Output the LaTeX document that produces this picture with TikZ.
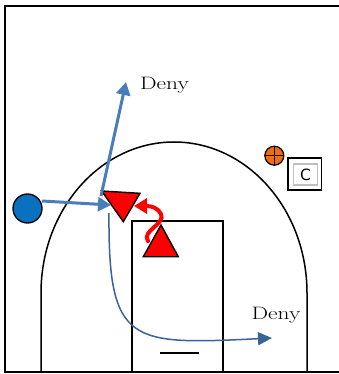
\documentclass[tikz,border=0pt]{standalone}
\usepackage{fontspec}
\newfontfamily\cfont{DejaVu Sans}
\usetikzlibrary{arrows.meta}
\definecolor{bluearr}{HTML}{4A7EBB}
\definecolor{bluecurve}{HTML}{3A6398}
\definecolor{bluedot}{HTML}{0A70C0}
\definecolor{orangedot}{HTML}{F26B0C}
\definecolor{redtri}{HTML}{FF0000}
\tikzset{
  court/.style={line width=1.5pt, black},
  defender/.style={fill=redtri, draw=black, line width=1.4pt, line join=miter},
  thickblue/.style={bluearr, line width=3pt, -{Triangle[length=13pt,width=14pt]}},
  thinblue/.style={bluecurve, line width=1.5pt, -{Triangle[length=14pt,width=13pt]}},
  redmove/.style={redtri, line width=4pt, line cap=round, -{Triangle[length=13pt,width=15pt]}},
  denytext/.style={font=\fontsize{18}{18}\selectfont, inner sep=0pt, anchor=base west},
}
\begin{document}
\begin{tikzpicture}[x=1pt,y=-1pt]
\useasboundingbox (0,0) rectangle (339,374);
% court border
\draw[line width=2pt] (341,6) -- (5,6) -- (5,372) -- (341,372);
% three-point line
\draw[court] (41,372) -- (41,293) arc[start angle=180, end angle=0, x radius=133, y radius=-151] -- (307,372);
% lane
\draw[line width=1.8pt] (132,372) -- (132,221) -- (223,221) -- (223,372);
\draw[line width=1.5pt] (160,353) -- (199,353);

% offensive player
\node[circle, fill=bluedot, draw=black, line width=1.3pt, minimum size=29pt, inner sep=0pt] (o1) at (27.5,208.5) {};

% defenders
\draw[defender] (101.7,191) -- (140,193.3) -- (123.3,221.7) -- cycle;
\draw[defender] (161,225) -- (178.3,256.7) -- (143.3,256.7) -- cycle;

% coach
\node[circle, fill=orangedot, draw=black, line width=1.2pt, minimum size=19pt, inner sep=0pt] (plus) at (274.3,155.7) {};
\draw[line width=1.2pt] (plus.north) -- (plus.south) (plus.west) -- (plus.east);
\node[draw=black, line width=1.3pt, minimum width=33.5pt, minimum height=32pt, inner sep=0pt] (cbox) at (304.8,174) {};
\node[draw=black!25, line width=1.6pt, minimum width=24pt, minimum height=21.5pt, inner sep=0pt, font=\cfont\fontsize{15.5}{15.5}\selectfont] (clab) at (305.5,174.5) {C};

% labels
\node[denytext] (deny1) at (140,90) {\scalebox{1.3}[1]{Deny}};
\node[denytext] (deny2) at (251.5,319) {\scalebox{1.3}[1]{Deny}};

% connectors
\coordinate (a1s) at (42,201);
\coordinate (a1e) at (111,205);
\coordinate (a2s) at (101,196);
\coordinate (a2e) at (126,82);
\coordinate (c1s) at (109,213);
\coordinate (c1e) at (272,338);
\coordinate (r1s) at (148,241);
\coordinate (r1e) at (134,206);
\draw[thickblue] (a1s) -- (a1e);
\draw[thickblue] (a2s) -- (a2e);
\draw[thinblue] (c1s) .. controls (108,345) and (130,345) .. (c1e);
\draw[redmove] (r1s) .. controls (141,231) and (166,224) .. (161,214) .. controls (158,208) and (152,206) .. (r1e);
\end{tikzpicture}
\end{document}
